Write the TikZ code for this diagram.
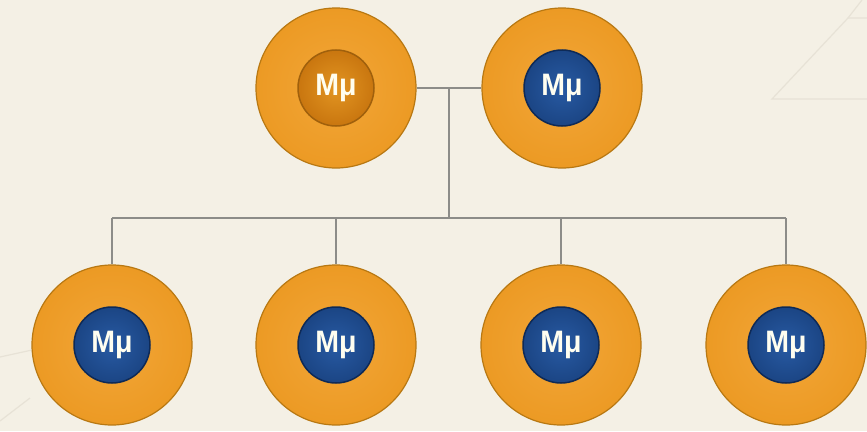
\documentclass[tikz,border=0pt]{standalone}
\usepackage{graphicx}
\usepackage{fontspec}
\setmainfont{Liberation Sans}
\newcommand{\mulabel}{\scalebox{0.92}[1]{Mμ}}
\begin{document}
\begin{tikzpicture}[x=1pt,y=-1pt,
  outerball/.style={circle, minimum size=160pt, inner sep=0pt, line width=1.2pt,
    draw=ballEdge, inner color=ballIn, outer color=ballOut},
  bluecore/.style={circle, minimum size=76pt, inner sep=0pt, line width=1.5pt,
    draw=blueEdge, inner color=blueIn, outer color=blueOut, text=white!94!yellow,
    font=\bfseries\fontsize{31}{31}\selectfont},
  orangecore/.style={bluecore, draw=oraEdge, inner color=oraIn, outer color=oraOut},
  link/.style={draw=linkGray, line width=2pt},
  faint/.style={draw=faintLine, line width=1.2pt}]
\definecolor{bg}{HTML}{F4F0E5}
\definecolor{ballIn}{HTML}{F2A638}
\definecolor{ballOut}{HTML}{EC9A24}
\definecolor{ballEdge}{HTML}{B87812}
\definecolor{blueIn}{HTML}{285AA3}
\definecolor{blueOut}{HTML}{1B4584}
\definecolor{blueEdge}{HTML}{0E2A57}
\definecolor{oraIn}{HTML}{E29522}
\definecolor{oraOut}{HTML}{C9760F}
\definecolor{oraEdge}{HTML}{A0600C}
\definecolor{linkGray}{HTML}{8C8C88}
\definecolor{faintLine}{HTML}{E7E2D6}
\fill[bg] (0,0) rectangle (867,431);
\useasboundingbox (0,0) rectangle (867,431);
% faint background lines
\draw[faint] (867,99) -- (772,99) -- (848,18) -- (867,18);
\draw[faint] (848,18) -- (862,0);
\draw[faint] (0,357) -- (32,350);
\draw[faint] (0,421) -- (30,398);
% parents
\node[outerball] (p1) at (336,88) {};
\node[orangecore] (p1c) at (336,88) {\mulabel};
\node[outerball] (p2) at (562,88) {};
\node[bluecore] (p2c) at (562,88) {\mulabel};
% children
\node[outerball] (k1) at (112,345) {};
\node[bluecore] (k1c) at (112,345) {\mulabel};
\node[outerball] (k2) at (336,345) {};
\node[bluecore] (k2c) at (336,345) {\mulabel};
\node[outerball] (k3) at (561,345) {};
\node[bluecore] (k3c) at (561,345) {\mulabel};
\node[outerball] (k4) at (786,345) {};
\node[bluecore] (k4c) at (786,345) {\mulabel};
% connectors
\coordinate (m) at (449,89);
\coordinate (j) at (449,218);
\draw[link] (p1.east) -- (p2.west);
\draw[link] (m) -- (j);
\draw[link] (k1.north |- j) -- (k4.north |- j);
\draw[link] (k1.north |- j) -- (k1.north);
\draw[link] (k2.north |- j) -- (k2.north);
\draw[link] (k3.north |- j) -- (k3.north);
\draw[link] (k4.north |- j) -- (k4.north);
\end{tikzpicture}
\end{document}
